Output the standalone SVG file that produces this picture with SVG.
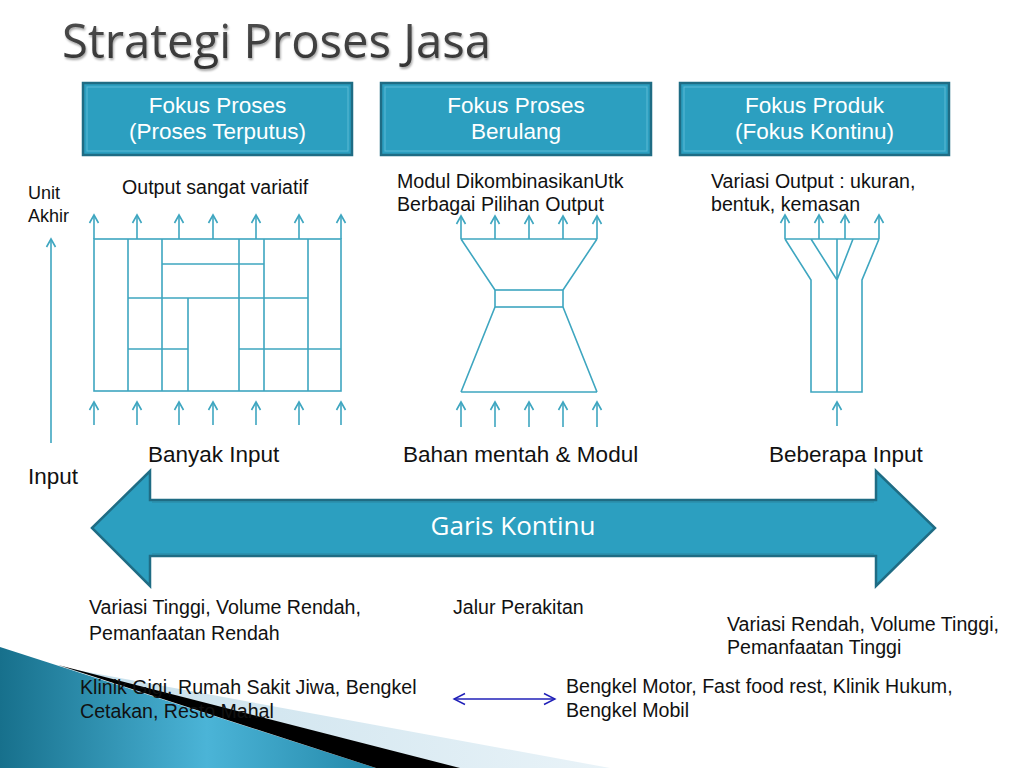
<svg xmlns="http://www.w3.org/2000/svg" width="1024" height="768" viewBox="0 0 1024 768">
<defs>
<style>
.ln{stroke:#3EA6C0;stroke-width:1.6;fill:none}
.ar{stroke:#3EA6C0;stroke-width:1.6;fill:none;marker-end:url(#oa)}
.t{font-family:"Liberation Sans",Arial,sans-serif;font-size:19.6px;fill:#111}
.tb{font-family:"Liberation Sans",Arial,sans-serif;font-size:22.5px;fill:#111}
.hd{font-family:"Liberation Sans",Arial,sans-serif;font-size:22.5px;fill:#fff;text-anchor:middle}
.box{fill:#2C9FC0;stroke:#1F6C84;stroke-width:2.5}
.inb{fill:none;stroke:#5BBAD5;stroke-width:1}
</style>
<marker id="oa" markerUnits="userSpaceOnUse" markerWidth="14" markerHeight="14" viewBox="0 0 14 14" refX="12" refY="7" orient="auto">
<path d="M4,2.5 L12,7 L4,11.5" fill="none" stroke="#3EA6C0" stroke-width="1.6"/>
</marker>
<marker id="ba" markerUnits="userSpaceOnUse" markerWidth="16" markerHeight="16" viewBox="0 0 16 16" refX="14" refY="8" orient="auto-start-reverse">
<path d="M3,2.5 L14,8 L3,13.5" fill="none" stroke="#2020B8" stroke-width="1.4"/>
</marker>
<linearGradient id="teal" x1="0" y1="0" x2="1" y2="0">
<stop offset="0" stop-color="#17708C"/>
<stop offset="0.55" stop-color="#4BB4D7"/>
<stop offset="1" stop-color="#2488A9"/>
</linearGradient>
<linearGradient id="pale" x1="0" y1="0" x2="1" y2="0">
<stop offset="0" stop-color="#C6DFEB"/>
<stop offset="1" stop-color="#E9F3F8"/>
</linearGradient>
<linearGradient id="ttl" x1="0" y1="0" x2="0" y2="1">
<stop offset="0" stop-color="#555555"/>
<stop offset="1" stop-color="#303030"/>
</linearGradient>
<filter id="sh" x="-5%" y="-20%" width="110%" height="150%">
<feDropShadow dx="1" dy="2" stdDeviation="1" flood-color="#000" flood-opacity="0.35"/>
</filter>
</defs>
<rect width="1024" height="768" fill="#fff"/>

<g id="decoration">
<polygon points="60,667 610,768 440,768" fill="url(#pale)"/>
<polygon points="0,647 376,768 0,768" fill="url(#teal)"/>
<polygon points="58,665 460,768 376,768" fill="#000"/>
</g>

<g id="title">
<text x="62" y="58" font-family="'Open Sans','DejaVu Sans',sans-serif" font-size="48" textLength="429" lengthAdjust="spacingAndGlyphs" fill="url(#ttl)" filter="url(#sh)">Strategi Proses Jasa</text>
</g>

<g id="header1">
<rect class="box" x="83" y="83" width="269" height="72"/>
<rect class="inb" x="87" y="87" width="261" height="64"/>
<text class="hd" x="217.5" y="113">Fokus Proses</text>
<text class="hd" x="217.5" y="139">(Proses Terputus)</text>
</g>
<g id="header2">
<rect class="box" x="381" y="83" width="270" height="72"/>
<rect class="inb" x="385" y="87" width="262" height="64"/>
<text class="hd" x="516" y="113">Fokus Proses</text>
<text class="hd" x="516" y="139">Berulang</text>
</g>
<g id="header3">
<rect class="box" x="680" y="83" width="269" height="72"/>
<rect class="inb" x="684" y="87" width="261" height="64"/>
<text class="hd" x="814.5" y="113">Fokus Produk</text>
<text class="hd" x="814.5" y="139">(Fokus Kontinu)</text>
</g>

<g id="axis">
<text class="t" x="28" y="199" style="font-size:18px">Unit</text>
<text class="t" x="28" y="222" style="font-size:18px">Akhir</text>
<text class="tb" x="28" y="484">Input</text>
</g>

<g id="process-left">
<text class="t" x="122" y="194">Output sangat variatif</text>
<rect class="ln" x="94" y="239" width="247" height="152"/>
<path class="ln" d="M128,239V391 M162,239V391 M239,239V391 M264,239V391 M308,239V391 M188,298V391 M162,264H264 M128,298H308 M128,349H188 M239,349H341"/>
<text class="tb" x="148" y="462">Banyak Input</text>
</g>

<g id="process-middle">
<text class="t" x="397" y="188">Modul DikombinasikanUtk</text>
<text class="t" x="397" y="211">Berbagai Pilihan Output</text>
<path class="ln" d="M461,239H597 M461,239L495,290 M597,239L563,290 M495,307L461,392 M563,307L597,392 M461,392H597"/>
<rect class="ln" x="495" y="290" width="68" height="17"/>
<text class="tb" x="403" y="462">Bahan mentah &amp; Modul</text>
</g>

<g id="process-right">
<text class="t" x="711" y="188">Variasi Output : ukuran,</text>
<text class="t" x="711" y="211">bentuk, kemasan</text>
<path class="ln" d="M785,239H879 M785,239L811,280V392H862V280L879,239 M837,239V392 M811,239L837,280L853,239"/>
<text class="tb" x="769" y="462">Beberapa Input</text>
</g>

<g id="continuum">
<polygon points="92,528 150,471 150,500 876,500 876,471 935,528 876,586 876,556 150,556 150,586" fill="#2C9FC0" stroke="#1F6C84" stroke-width="2.5" stroke-linejoin="miter"/>
<path d="M152,502H874 M152,554H874" stroke="#2A85A0" stroke-width="1.2" fill="none"/>
<text x="513" y="535" font-family="'Open Sans','DejaVu Sans',sans-serif" font-size="26" fill="#fff" text-anchor="middle">Garis Kontinu</text>
</g>

<g id="characteristics">
<text class="t" x="89" y="614">Variasi Tinggi, Volume Rendah,</text>
<text class="t" x="89" y="640">Pemanfaatan Rendah</text>
<text class="t" x="453" y="614">Jalur Perakitan</text>
<text class="t" x="727" y="631">Variasi Rendah, Volume Tinggi,</text>
<text class="t" x="727" y="654">Pemanfaatan Tinggi</text>
</g>

<g id="examples-left">
<text class="t" x="80" y="694">Klinik Gigi, Rumah Sakit Jiwa, Bengkel</text>
<text class="t" x="80" y="718">Cetakan, Resto Mahal</text>
</g>
<g id="examples-right">
<text class="t" x="566" y="693">Bengkel Motor, Fast food rest, Klinik Hukum,</text>
<text class="t" x="566" y="717">Bengkel Mobil</text>
</g>

<g id="connectors">
<line class="ar" x1="51" y1="443" x2="51" y2="239"/>
<line class="ar" x1="94" y1="239" x2="94" y2="215"/>
<line class="ar" x1="137" y1="239" x2="137" y2="215"/>
<line class="ar" x1="179" y1="239" x2="179" y2="215"/>
<line class="ar" x1="213" y1="239" x2="213" y2="215"/>
<line class="ar" x1="256" y1="239" x2="256" y2="215"/>
<line class="ar" x1="299" y1="239" x2="299" y2="215"/>
<line class="ar" x1="341" y1="239" x2="341" y2="215"/>
<line class="ar" x1="94" y1="425" x2="94" y2="402"/>
<line class="ar" x1="137" y1="425" x2="137" y2="402"/>
<line class="ar" x1="179" y1="425" x2="179" y2="402"/>
<line class="ar" x1="213" y1="425" x2="213" y2="402"/>
<line class="ar" x1="256" y1="425" x2="256" y2="402"/>
<line class="ar" x1="299" y1="425" x2="299" y2="402"/>
<line class="ar" x1="341" y1="425" x2="341" y2="402"/>
<line class="ar" x1="461" y1="239" x2="461" y2="216"/>
<line class="ar" x1="495" y1="239" x2="495" y2="216"/>
<line class="ar" x1="529" y1="239" x2="529" y2="216"/>
<line class="ar" x1="563" y1="239" x2="563" y2="216"/>
<line class="ar" x1="597" y1="239" x2="597" y2="216"/>
<line class="ar" x1="461" y1="427" x2="461" y2="402"/>
<line class="ar" x1="495" y1="427" x2="495" y2="402"/>
<line class="ar" x1="529" y1="427" x2="529" y2="402"/>
<line class="ar" x1="563" y1="427" x2="563" y2="402"/>
<line class="ar" x1="597" y1="427" x2="597" y2="402"/>
<line class="ar" x1="785" y1="239" x2="785" y2="215"/>
<line class="ar" x1="819" y1="239" x2="819" y2="215"/>
<line class="ar" x1="845" y1="239" x2="845" y2="215"/>
<line class="ar" x1="879" y1="239" x2="879" y2="215"/>
<line class="ar" x1="837" y1="426" x2="837" y2="402"/>
<line x1="454" y1="699" x2="555" y2="699" stroke="#2020B8" stroke-width="1.4" marker-start="url(#ba)" marker-end="url(#ba)"/>
</g>
</svg>
